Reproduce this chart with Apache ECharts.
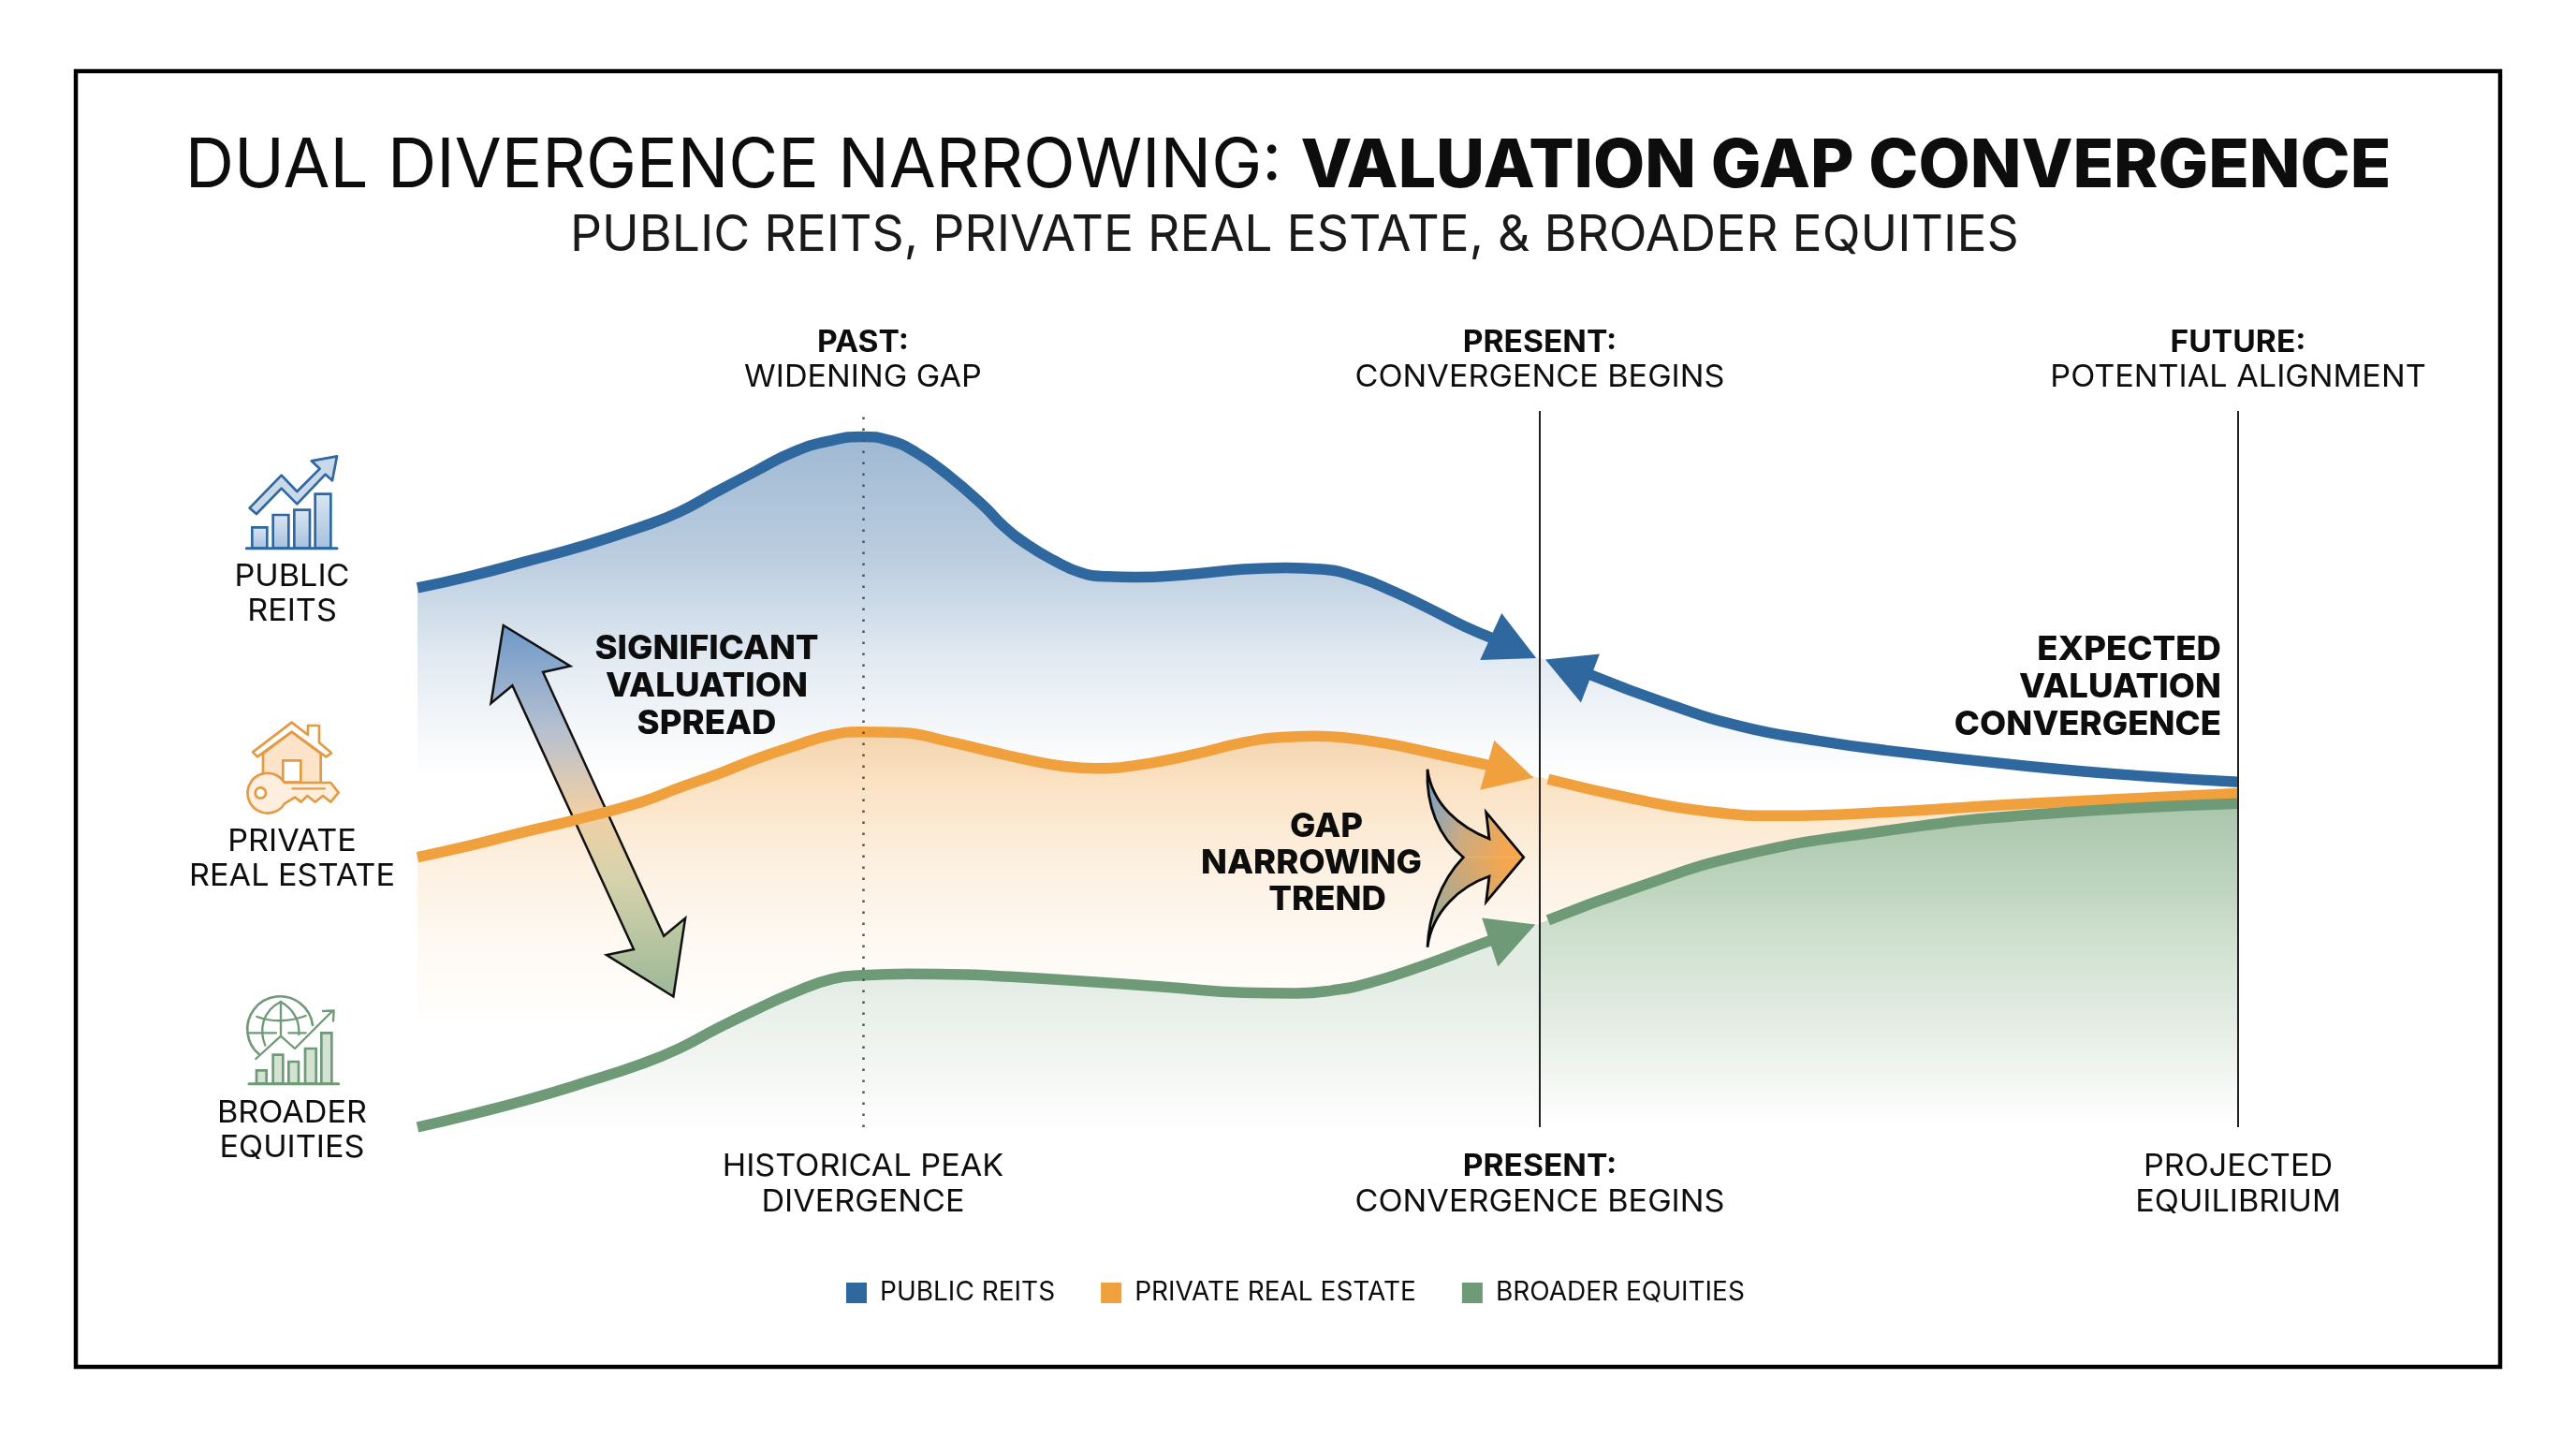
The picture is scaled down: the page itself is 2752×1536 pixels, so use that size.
<!DOCTYPE html>
<html>
<head>
<meta charset="utf-8">
<style>html,body{margin:0;padding:0;background:#fff}#c{width:2752px;height:1536px}</style>
<script src="https://cdn.jsdelivr.net/npm/echarts@6/dist/echarts.min.js"></script>
</head>
<body>
<div id="c"></div>
<script>
// x: position on the timeline (0 start, 100 projected equilibrium); y: relative valuation index
const publicReitsPast = [[0,75.3],[2.83,76.9],[5.98,79],[9.14,81.2],[12.28,83.8],[14.38,85.9],[16.48,88.8],[18.58,91.6],[20.68,94.3],[22.78,95.9],[24.45,96.4],[25.91,95.9],[27.39,94.2],[29.07,91.2],[31.16,86.6],[32.16,84],[33.52,81.3],[34.91,79.2],[36.49,77.4],[37.87,76.9],[39.43,76.8],[42.39,77.2],[45.35,77.9],[47.7,78.1],[49.67,77.9],[51.64,76.8],[53.6,74.8],[55.58,72.4],[57.53,69.9],[59.31,68],[61.6,65.4]];
const privateRealEstatePast = [[0,37.7],[2.83,39.3],[5.98,41.3],[8.5,42.8],[12.28,45.4],[14.38,47.4],[16.48,49.3],[18.58,51.4],[20.68,53.2],[22.78,54.8],[24.45,55.2],[26.55,55.1],[29.07,53.9],[31.57,52.4],[33.52,51.3],[35.5,50.4],[37.28,50.1],[39.43,50.5],[42.39,51.9],[45.35,53.7],[47.3,54.4],[49.27,54.6],[51.24,54.3],[53.17,53.6],[56.16,52],[59.08,50.4],[61.6,48.8]];
const broaderEquitiesPast = [[0,0],[2.83,1.7],[5.98,3.8],[9.14,6.2],[12.28,8.8],[14.38,11],[16.48,13.8],[18.58,16.4],[20.68,18.8],[22.78,20.7],[24.45,21.2],[26.97,21.4],[30.12,21.3],[32.6,21],[36.49,20.4],[41.41,19.5],[45.35,18.8],[48.3,18.7],[50.25,19.1],[52.22,20.1],[55.17,22.5],[57.92,25.1],[59.49,26.6],[61.6,28.4]];
const publicReitsFuture = [[61.64,65.6],[61.9,65.3],[64.2,63.4],[68.9,58.9],[72.8,55.9],[76.8,54],[80.7,52.6],[88.5,50.4],[94.4,49.1],[100,48.2]];
const privateRealEstateFuture = [[61.64,48.9],[62.1,48.6],[66.9,45.8],[70.8,44.1],[74.8,43.5],[80.7,44],[88.5,45.2],[100,46.6]];
const broaderEquitiesFuture = [[61.64,28.5],[62.1,28.9],[66.9,33.4],[72.8,38],[80.7,41.4],[88.5,43.6],[100,45.2]];
const peakTime = 24.5, presentTime = 61.64, futureTime = 100;
const seriesNames = ['PUBLIC REITS','PRIVATE REAL ESTATE','BROADER EQUITIES'];
const arrowTips = [[61.45,65.5],[61.3,48.8],[61.4,28.3],[61.95,65.3]];

const BLUE='#2f679f', ORANGE='#f0a03c', GREEN='#6f9a78';
const INK='#0d0d0d', FONT='Inter';
const arrowWings = [[[-37,-48],[-60,2]],[[-42,-40],[-57,13]],[[-57,-7],[-40,45]],[[58,-6],[38,46]]];
const arrowColors = [BLUE,ORANGE,GREEN,BLUE];
const c = echarts.init(document.getElementById('c'),null,{renderer:'canvas'});
const G = echarts.graphic;
let shapeCount=0;
function shapeOf(d){const n='decor'+(shapeCount++);G.registerShape(n,G.extendPath(d));return n;}
const grad = (y0,y1,stops)=>new G.LinearGradient(0,y0,0,y1,stops.map(s=>({offset:s[0],color:s[1]})),true);
const blueFill = ()=>grad(470,830,[[0,'rgba(47,103,159,0.46)'],[0.36,'rgba(47,103,159,0.32)'],[0.64,'rgba(47,103,159,0.144)'],[0.86,'rgba(47,103,159,0.05)'],[1,'rgba(47,103,159,0)']]);
const orangeFill = ()=>grad(785,1100,[[0,'rgba(240,160,60,0.4)'],[0.413,'rgba(240,160,60,0.17)'],[0.683,'rgba(240,160,60,0.07)'],[1,'rgba(240,160,60,0)']]);
const greenPastFill = ()=>grad(1040,1204,[[0,'#e2ece3'],[0.43,'#eef3ee'],[1,'#fefefe']]);
const greenFutureFill = ()=>grad(860,1204,[[0,'#a9c6ab'],[0.26,'#bfd5c0'],[0.41,'#cfe0cf'],[0.7,'#e6eee6'],[1,'#ffffff']]);
function area(name,data,color,fill){return {type:'line',name,data,z:1,smooth:true,showSymbol:false,silent:true,clip:false,
  itemStyle:{color},lineStyle:{width:0,color},areaStyle:{color:fill,origin:'start',opacity:1}};}
function stroke(name,data,color){return {type:'line',name,data,z:3,smooth:true,showSymbol:false,silent:true,clip:false,
  itemStyle:{color},lineStyle:{width:11.5,color,cap:'butt'}};}
const SX=1.035, SXB=1.05, SXA=1.015;
function txt(text,x,y,size,weight,sx,style){return {type:'text',x,y,z:10,silent:true,scaleX:sx,style:Object.assign({text,fill:INK,fontFamily:FONT,fontSize:size,fontWeight:weight,align:'center',verticalAlign:'middle'},style||{})};}
const R='400',B='700';
const doubleArrow = 'M537.8 668 L609.2 711.4 L580.1 718 L709.2 999.7 L732.1 980.8 L719.4 1064.5 L648 1020 L677 1014 L547.4 732.3 L524.5 751.2 Z';
const curvedOutline = 'M1525 821.7 C1530 860 1560 883.3 1591 896 L1587.7 867.7 L1627.7 915.7 L1587.7 963.3 L1591 936 C1560 946.7 1530 973.3 1525 1011.7 C1526.7 980 1536.7 943.3 1563.3 915.7 C1536.7 893.3 1523.3 860 1525 821.7 Z';
const curvedTop = 'M1525 821.7 C1530 860 1560 883.3 1591 896 L1587.7 867.7 L1627.7 915.7 L1563.3 915.7 C1536.7 893.3 1523.3 860 1525 821.7 Z';
const curvedBottom = 'M1563.3 915.7 L1627.7 915.7 L1587.7 963.3 L1591 936 C1560 946.7 1530 973.3 1525 1011.7 C1526.7 980 1536.7 943.3 1563.3 915.7 Z';
const iconLine=(color,w)=>({stroke:color,lineWidth:w,fill:null,lineJoin:'round',lineCap:'round'});
const pth=(d,style)=>({type:shapeOf(d),style});
function bars(list,fill,color,w){return list.map(b=>({type:'rect',shape:{x:b[0],y:b[1],width:b[2],height:b[3]},style:{fill,stroke:color,lineWidth:w}}));}
const blueIcon={type:'group',x:180,y:470,scaleX:1/3,scaleY:1/3,silent:true,children:[
  ...bars([[268,280,48,67],[335,240,50,107],[403,224,50,123],[470,173,50,174]],new G.LinearGradient(0,0,0,1,[{offset:0,color:'#dbe6f2'},{offset:1,color:'#a5c0de'}]),BLUE,8),
  {type:'line',shape:{x1:250,y1:347,x2:540,y2:347},style:iconLine(BLUE,9)},
  pth('M260 218 L362 113 L412 165 L485 92 L458 67 L540 52 L525 130 L503 110 L412 205 L362 155 L282 237 Z',{fill:'#c9d9ea',stroke:BLUE,lineWidth:8,lineJoin:'round'})
]};
const OI='#e49a45';
const orangeIcon={type:'group',x:180,y:750,scaleX:1/3,scaleY:1/3,silent:true,children:[
  pth('M303 165 L395 95 L488 165 L488 262 L303 262 Z',{fill:'#fde3c8',stroke:OI,lineWidth:8}),
  pth('M270 160 L395 65 L447 105 L447 75 L483 75 L483 130 L522 163 L505 175 L395 95 L285 175 Z',{fill:'#fff',stroke:OI,lineWidth:8,lineJoin:'round'}),
  {type:'rect',shape:{x:367,y:187,width:57,height:70},style:{fill:'#fff',stroke:OI,lineWidth:8}},
  pth('M372 258 L520 258 L545 290 L520 320 L495 300 L470 320 L445 300 L425 320 L405 305 L372 325 A64 64 0 1 1 372 258 Z',{fill:'#fdeedd',stroke:OI,lineWidth:8,lineJoin:'round'}),
  {type:'circle',shape:{cx:295,cy:291,r:17},style:{fill:'#fff',stroke:OI,lineWidth:8}},
  {type:'line',shape:{x1:398,y1:277,x2:500,y2:277},style:iconLine(OI,7)}
]};
const greenIcon={type:'group',x:180,y:1050,scaleX:1/3,scaleY:1/3,silent:true,children:[
  pth('M462 135 A105 105 0 1 0 290 228',iconLine(GREEN,8)),
  pth('M360 60 L360 165',iconLine(GREEN,7)),
  pth('M360 60 C300 90 290 150 310 200',iconLine(GREEN,7)),
  pth('M360 60 C410 90 420 130 418 165',iconLine(GREEN,7)),
  pth('M283 108 Q360 135 440 105',iconLine(GREEN,7)),
  pth('M258 160 L345 160 M385 160 L440 160',iconLine(GREEN,7)),
  pth('M280 243 L360 170 L405 210 L525 90 M495 90 L530 88 L528 122',iconLine(GREEN,7)),
  ...bars([[282,280,32,43],[335,230,32,93],[385,252,32,71],[438,210,35,113],[490,160,33,163]],'#d3e2d3',GREEN,8),
  {type:'line',shape:{x1:258,y1:323,x2:545,y2:323},style:iconLine(GREEN,9)}
]};
const option={
  animation:false,backgroundColor:'#ffffff',
  textStyle:{fontFamily:FONT},
  title:[
    {text:'{a|DUAL DIVERGENCE NARROWING: }{b|VALUATION GAP CONVERGENCE}',left:'center',top:137,
      textStyle:{rich:{a:{fontFamily:FONT,fontSize:72.5,fontWeight:400,color:INK},b:{fontFamily:FONT,fontSize:71.5,fontWeight:800,color:INK}}}},
    {text:'PUBLIC REITS, PRIVATE REAL ESTATE, & BROADER EQUITIES',left:604,top:220,
      textStyle:{fontFamily:FONT,fontSize:53.4,fontWeight:400,color:'#1a1a1a'}}
  ],
  legend:{data:seriesNames,icon:'rect',left:899,top:1362,itemWidth:22,itemHeight:22,itemGap:49,orient:'horizontal',selectedMode:false,
    textStyle:{fontFamily:FONT,fontSize:28,color:INK,padding:[0,0,0,9]}},
  grid:{left:446,right:361,top:439,bottom:332},
  xAxis:{type:'value',min:0,max:100,show:false},
  yAxis:{type:'value',min:0,max:100,show:false},
  series:[
    area(seriesNames[0],publicReitsPast,BLUE,blueFill()),
    area(seriesNames[1],privateRealEstatePast,ORANGE,orangeFill()),
    area(seriesNames[2],broaderEquitiesPast,GREEN,greenPastFill()),
    area(seriesNames[0],publicReitsFuture,BLUE,blueFill()),
    area(seriesNames[1],privateRealEstateFuture,ORANGE,orangeFill()),
    area(seriesNames[2],broaderEquitiesFuture,GREEN,greenFutureFill()),
    {type:'line',name:'reference lines',data:[],z:2,silent:true,
      markLine:{silent:true,symbol:'none',label:{show:false},animation:false,data:[
        {xAxis:peakTime,lineStyle:{color:'#555',width:2.5,type:[2.5,9.5]}},
        {xAxis:presentTime,lineStyle:{color:'#222',width:2,type:'solid'}},
        {xAxis:futureTime,lineStyle:{color:'#222',width:2,type:'solid'}}]}},
    stroke(seriesNames[0],publicReitsPast.slice(0,-1),BLUE),
    stroke(seriesNames[1],privateRealEstatePast.slice(0,-1),ORANGE),
    stroke(seriesNames[2],broaderEquitiesPast.slice(0,-1),GREEN),
    stroke(seriesNames[0],publicReitsFuture.slice(2),BLUE),
    stroke(seriesNames[1],privateRealEstateFuture.slice(1),ORANGE),
    stroke(seriesNames[2],broaderEquitiesFuture.slice(1),GREEN),
    {type:'custom',z:4,silent:true,clip:false,data:arrowTips,
      encode:{x:0,y:1},
      renderItem:(p,api)=>{const t=api.coord([api.value(0),api.value(1)]);const w=arrowWings[p.dataIndex];
        return {type:'polygon',shape:{points:[t,[t[0]+w[0][0],t[1]+w[0][1]],[t[0]+w[1][0],t[1]+w[1][1]]]},style:{fill:arrowColors[p.dataIndex]}};}}
  ],
  graphic:{elements:[
    {type:'rect',z:0,silent:true,shape:{x:81,y:76,width:2590,height:1384},style:{fill:null,stroke:'#000',lineWidth:4.5}},
    {type:shapeOf(doubleArrow),z:2,silent:true,style:{stroke:'#111',lineWidth:2.5,lineJoin:'miter',
      fill:new G.LinearGradient(0,0,0,1,[{offset:0,color:'#6e98c8'},{offset:0.28,color:'#b5c0d0'},{offset:0.5,color:'#f2cfa5'},{offset:0.68,color:'#d6d3ac'},{offset:1,color:'#9cb898'}])}},
    {type:shapeOf(curvedTop),z:5,silent:true,style:{fill:new G.LinearGradient(0,0,1,0.35,[{offset:0,color:'#6f9fd0'},{offset:0.5,color:'#c8ab85'},{offset:1,color:'#f5a74f'}])}},
    {type:shapeOf(curvedBottom),z:5,silent:true,style:{fill:new G.LinearGradient(0,1,1,0.4,[{offset:0,color:'#8faaa0'},{offset:0.5,color:'#c0a982'},{offset:1,color:'#f5a74f'}])}},
    {type:shapeOf(curvedOutline),z:6,silent:true,style:{fill:null,stroke:'#0a0a0a',lineWidth:2.8,lineJoin:'miter'}},
    blueIcon,orangeIcon,greenIcon,
    txt('PUBLIC\nREITS',312,635,33,R,SX,{lineHeight:37}),
    txt('PRIVATE\nREAL ESTATE',312,918,33,R,SX,{lineHeight:37}),
    txt('BROADER\nEQUITIES',312,1208,33,R,SX,{lineHeight:37}),
    txt('PAST:',922,366,32,B,SXB),txt('WIDENING GAP',922,403,33,R,SX),
    txt('PRESENT:',1645,366,32,B,SXB),txt('CONVERGENCE BEGINS',1645,403,33,R,SX),
    txt('FUTURE:',2391,366,32,B,SXB),txt('POTENTIAL ALIGNMENT',2391,403,33,R,SX),
    txt('HISTORICAL PEAK\nDIVERGENCE',922,1265,33,R,SX,{lineHeight:38}),
    txt('PRESENT:',1645,1246,32,B,SXB),txt('CONVERGENCE BEGINS',1645,1284,33,R,SX),
    txt('PROJECTED\nEQUILIBRIUM',2391,1265,33,R,SX,{lineHeight:38}),
    txt('SIGNIFICANT\nVALUATION\nSPREAD',755,733,36,800,SXA,{lineHeight:40}),
    txt('GAP',1417,883,36,800,SXA),
    txt('NARROWING',1401,922,36,800,SXA),
    txt('TREND',1418,961,36,800,SXA),
    txt('EXPECTED\nVALUATION\nCONVERGENCE',2373,734,36,800,SXA,{lineHeight:40,align:'right'})
  ]}
};
c.setOption(option);
</script>
</body>
</html>
